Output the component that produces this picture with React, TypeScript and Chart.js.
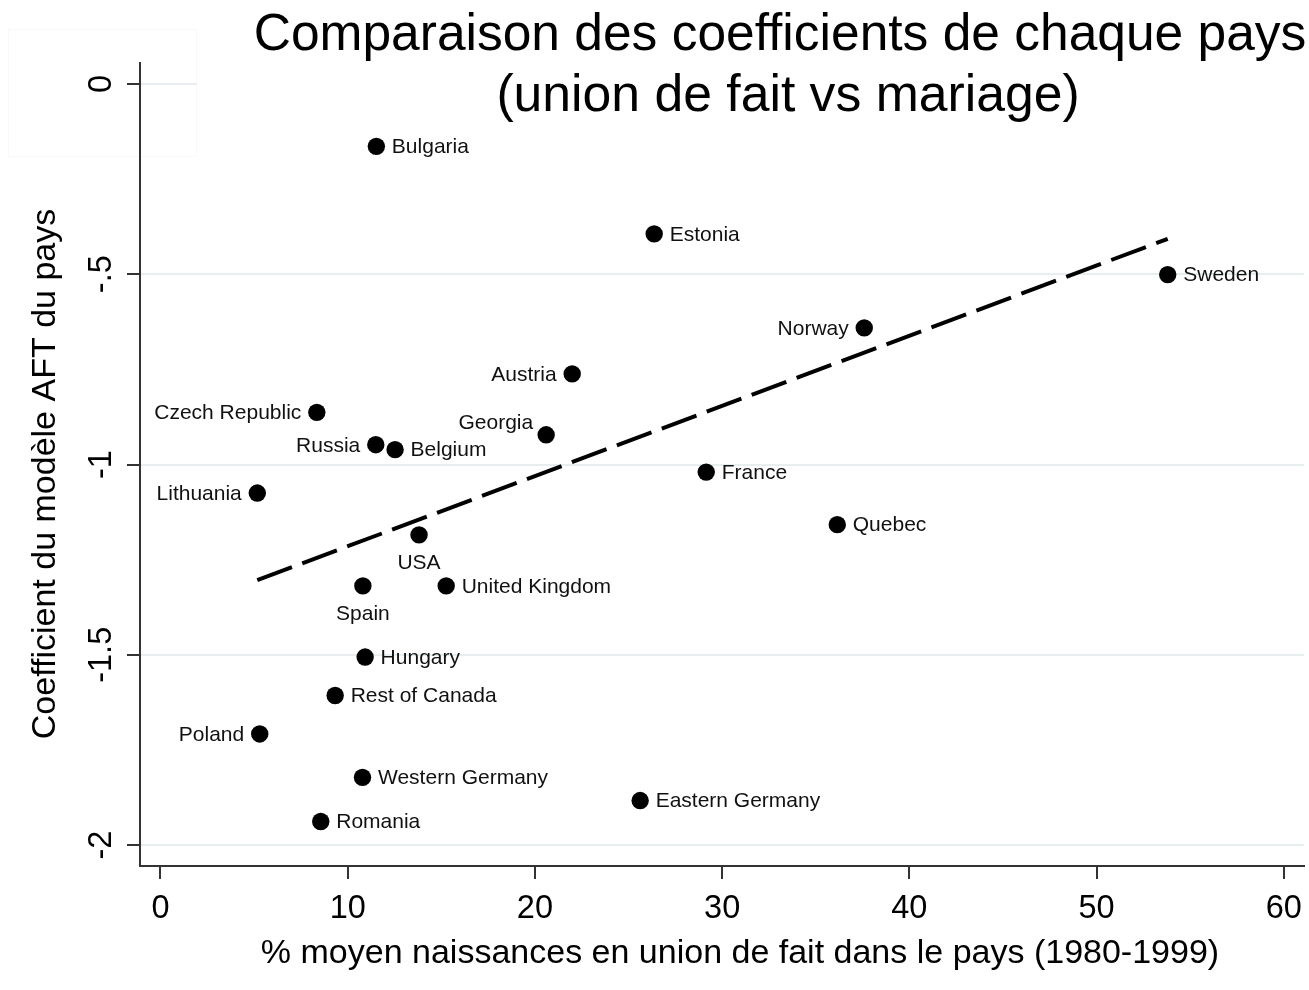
import React, { useEffect, useRef } from "react";
import { Chart, registerables } from "chart.js";

Chart.register(...registerables);

// ---------- data ----------
const countries = [
  "Bulgaria", "Estonia", "Sweden", "Norway", "Austria", "Czech Republic", "Georgia",
  "Russia", "Belgium", "France", "Lithuania", "Quebec", "USA", "Spain", "United Kingdom",
  "Hungary", "Rest of Canada", "Poland", "Western Germany", "Eastern Germany", "Romania",
];
const pctBirths = [
  11.53, 26.37, 53.8, 37.59, 21.99, 8.35, 20.6,
  11.5, 12.53, 29.15, 5.17, 36.15, 13.81, 10.81, 15.26,
  10.93, 9.33, 5.3, 10.79, 25.62, 8.56,
];
const coefficients = [
  -0.164, -0.394, -0.501, -0.641, -0.762, -0.863, -0.922,
  -0.948, -0.961, -1.02, -1.075, -1.158, -1.185, -1.319, -1.319,
  -1.506, -1.607, -1.708, -1.822, -1.883, -1.938,
];
const fitX = [5.17, 53.8];
const fitY = [-1.304, -0.407];

const xTicks = [0, 10, 20, 30, 40, 50, 60];
const xTickLabels = ["0", "10", "20", "30", "40", "50", "60"];
const yTicks = [0, -0.5, -1, -1.5, -2];
const yTickLabels = ["0", "-.5", "-1", "-1.5", "-2"];

const titleLines = ["Comparaison des coefficients de chaque pays", "(union de fait vs mariage)"];
const xTitle = "% moyen naissances en union de fait dans le pays (1980-1999)";
const yTitle = "Coefficient du modèle AFT du pays";

// label placement around each marker (presentation only)
const labelPlacement: Record<string, string> = {
  Norway: "l", Austria: "l", "Czech Republic": "l", Russia: "l", Lithuania: "l", Poland: "l",
  USA: "b", Spain: "b", Georgia: "ul",
};

const FONT = '"Liberation Sans", Arial, Helvetica, sans-serif';

const decorPlugin = {
  id: "decor",
  beforeDraw(chart: any) {
    const ctx = chart.ctx;
    ctx.save();
    ctx.strokeStyle = "#f8f8f8";
    ctx.lineWidth = 1;
    ctx.strokeRect(8.5, 29.5, 188, 127);
    ctx.restore();
  },
  beforeDatasetsDraw(chart: any) {
    const ctx = chart.ctx;
    ctx.save();
    ctx.fillStyle = "#ffffff";
    ctx.fillRect(197, 70, chart.width - 197, 28);
    ctx.restore();
  },
  afterDatasetsDraw(chart: any) {
    const ctx = chart.ctx;
    const meta = chart.getDatasetMeta(0);
    ctx.save();
    ctx.font = `21px ${FONT}`;
    ctx.fillStyle = "#111";
    ctx.textBaseline = "middle";
    meta.data.forEach((pt: any, i: number) => {
      const place = labelPlacement[countries[i]] || "r";
      let x = pt.x;
      let y = pt.y + 1;
      if (place === "r") { ctx.textAlign = "left"; x += 15.5; }
      else if (place === "l") { ctx.textAlign = "right"; x -= 15.5; }
      else if (place === "b") { ctx.textAlign = "center"; y += 27.5; }
      else { ctx.textAlign = "right"; x -= 13; y -= 12.5; }
      ctx.fillText(countries[i], x, y);
    });
    ctx.restore();
  },
  afterDraw(chart: any) {
    const ctx = chart.ctx;
    ctx.save();
    ctx.fillStyle = "#000";
    ctx.textBaseline = "alphabetic";
    ctx.textAlign = "center";
    ctx.font = `51.5px ${FONT}`;
    ctx.fillText(titleLines[0], 780, 50);
    ctx.font = `51.7px ${FONT}`;
    ctx.fillText(titleLines[1], 788, 111);
    ctx.font = `34px ${FONT}`;
    ctx.fillText(xTitle, 740, 963);
    ctx.translate(54.5, 474);
    ctx.rotate(-Math.PI / 2);
    ctx.fillText(yTitle, 0, 0);
    ctx.restore();
  },
};

export default function App() {
  const ref = useRef<HTMLCanvasElement | null>(null);

  useEffect(() => {
    if (!ref.current) return;
    const chart = new Chart(ref.current, {
      type: "scatter",
      data: {
        datasets: [
          {
            type: "scatter",
            data: pctBirths.map((x, i) => ({ x, y: coefficients[i] })),
            pointRadius: 8.7,
            pointBackgroundColor: "#000",
            pointBorderWidth: 0,
            borderWidth: 0,
            order: 0,
          } as any,
          {
            type: "line",
            data: fitX.map((x, i) => ({ x, y: fitY[i] })),
            borderColor: "#000",
            borderWidth: 4,
            borderDash: [37, 11],
            borderCapStyle: "butt",
            pointRadius: 0,
            fill: false,
            tension: 0,
            order: 1,
          } as any,
        ],
      },
      options: {
        responsive: false,
        animation: false,
        events: [],
        layout: { autoPadding: false, padding: { top: 63, right: 5, left: 0, bottom: 0 } },
        plugins: {
          legend: { display: false },
          tooltip: { enabled: false },
          title: { display: false },
        },
        scales: {
          x: {
            type: "linear",
            position: "bottom",
            min: -1.095,
            max: 61.08,
            afterBuildTicks: (s: any) => { s.ticks = xTicks.map((v) => ({ value: v })); },
            afterFit: (s: any) => { s.height = 124; s.paddingLeft = 0; s.paddingRight = 0; },
            ticks: {
              callback: (v: any) => xTickLabels[xTicks.indexOf(Number(v))] ?? "",
              font: { family: FONT, size: 32.5 },
              color: "#000",
              padding: 11,
              maxRotation: 0,
              autoSkip: false,
            },
            grid: {
              drawOnChartArea: false,
              tickLength: 13,
              tickColor: "#333",
              tickWidth: 2,
              lineWidth: 2,
            },
            border: { color: "#333", width: 2 },
          },
          y: {
            type: "linear",
            position: "left",
            min: -2.055,
            max: 0.055,
            afterBuildTicks: (s: any) => { s.ticks = yTicks.map((v) => ({ value: v })); },
            afterFit: (s: any) => { s.width = 140; },
            ticks: {
              callback: (v: any) => yTickLabels[yTicks.indexOf(Number(v))] ?? "",
              font: { family: FONT, size: 32.5 },
              color: "#000",
              minRotation: 90,
              maxRotation: 90,
              crossAlign: "center",
              padding: -2.6,
              autoSkip: false,
            },
            grid: {
              color: "#e6eef0",
              lineWidth: 2,
              tickLength: 13,
              tickColor: "#333",
              tickWidth: 2,
            },
            border: { color: "#333", width: 2 },
          },
        },
      } as any,
      plugins: [decorPlugin],
    });
    return () => chart.destroy();
  }, []);

  return (
    <div style={{ position: "fixed", left: 0, top: 0, width: 1309, height: 990, background: "#fff" }}>
      <canvas ref={ref} width={1309} height={990} style={{ display: "block" }} />
    </div>
  );
}
